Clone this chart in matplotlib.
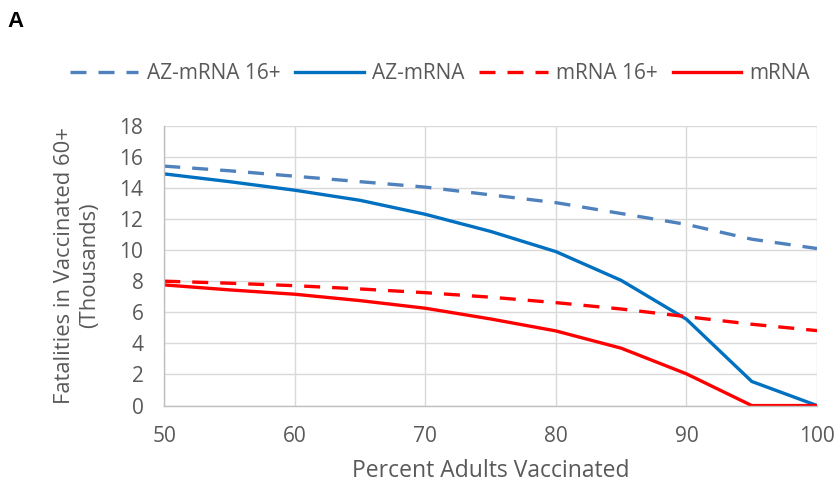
import matplotlib.pyplot as plt

plt.rcParams['font.family'] = ['Open Sans', 'DejaVu Sans']

# Data (thousands of fatalities)
pct_vaccinated = [50, 55, 60, 65, 70, 75, 80, 85, 90, 95, 100]
az_mrna_16 = [15.4, 15.1, 14.75, 14.4, 14.05, 13.55, 13.05, 12.35, 11.65, 10.7, 10.1]
az_mrna = [14.9, 14.4, 13.85, 13.2, 12.3, 11.2, 9.9, 8.05, 5.55, 1.55, 0.0]
mrna_16 = [8.0, 7.87, 7.71, 7.5, 7.26, 6.97, 6.62, 6.21, 5.72, 5.23, 4.82]
mrna = [7.76, 7.44, 7.16, 6.75, 6.26, 5.57, 4.8, 3.69, 2.04, 0.0, 0.0]

text_color = '#595959'
grid_color = '#D9D9D9'

fig = plt.figure(figsize=(8.38, 4.91), dpi=100)
ax = fig.add_axes([0.196, 0.174, 0.779, 0.570])

dash = (0, (4.8, 3.6))
lw = 2.4
ax.plot(pct_vaccinated, az_mrna_16, color='#4F81BD', lw=lw, ls=dash, label='AZ-mRNA 16+')
ax.plot(pct_vaccinated, az_mrna, color='#0070C0', lw=lw, label='AZ-mRNA')
ax.plot(pct_vaccinated, mrna_16, color='#FF0000', lw=lw, ls=dash, label='mRNA 16+')
ax.plot(pct_vaccinated, mrna, color='#FF0000', lw=lw, label='mRNA')

ax.set_xlim(50, 100)
ax.set_ylim(0, 18)
ax.set_xticks(range(50, 101, 10))
ax.set_yticks(range(0, 19, 2))
ax.grid(True, color=grid_color, lw=1.0)
ax.set_axisbelow(True)
for side in ['top', 'right']:
    ax.spines[side].set_visible(False)
for side in ['left', 'bottom']:
    ax.spines[side].set_color('#BFBFBF')
    ax.spines[side].set_linewidth(1.0)
ax.tick_params(length=0, colors=text_color, labelsize=15)
ax.tick_params(axis='y', pad=15)
ax.tick_params(axis='x', pad=15)

ax.set_xlabel('Percent Adults Vaccinated', fontsize=16.5, color=text_color, labelpad=8)
ax.set_ylabel('Fatalities in Vaccinated 60+\n(Thousands)', fontsize=15.8, color=text_color,
              labelpad=14, linespacing=1.22)

fig.legend(loc='center', bbox_to_anchor=(0.525, 0.85), ncol=4, frameon=False,
           fontsize=15, handlelength=3.3, columnspacing=0.7, handletextpad=0.4,
           labelcolor=text_color)

fig.text(0.009, 0.957, 'A', fontsize=16, weight='bold', ha='left', va='center',
         family=['Liberation Sans', 'DejaVu Sans'])

plt.savefig('out.png', dpi=100)
